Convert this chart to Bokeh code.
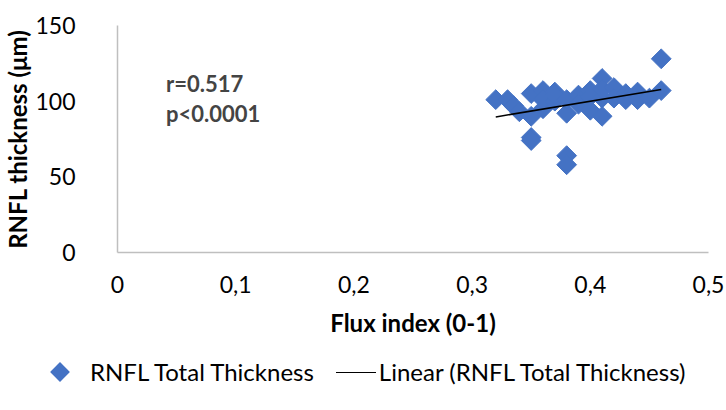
import numpy as np
from bokeh.plotting import figure
from bokeh.layouts import column
from bokeh.models import ColumnDataSource, FixedTicker, Label, Div
from bokeh.embed import file_html
from bokeh.resources import INLINE

flux = [0.32, 0.33, 0.335, 0.34, 0.35, 0.35, 0.35, 0.35, 0.36, 0.36, 0.36, 0.37, 0.37,
        0.37, 0.38, 0.38, 0.38, 0.38, 0.39, 0.39, 0.40, 0.40, 0.40, 0.41, 0.41, 0.41,
        0.41, 0.42, 0.42, 0.43, 0.43, 0.44, 0.44, 0.45, 0.46, 0.46]
rnfl = [101, 101, 97, 93, 105, 90, 76, 74, 107, 95, 101, 106, 100,
        104, 92, 64, 58, 101, 104, 98, 107, 94, 103, 115, 90, 102,
        108, 109, 102, 105, 101, 106, 101, 102, 107, 128]
trend_x = [0.32, 0.46]
trend_y = [89.6, 107.7]

x_ticks = [0, 0.1, 0.2, 0.3, 0.4, 0.5]
x_labels = ["0", "0,1", "0,2", "0,3", "0,4", "0,5"]
y_ticks = [0, 50, 100, 150]
series_labels = ["RNFL Total Thickness", "Linear (RNFL Total Thickness)"]

FONT = "Lato"
BLUE = "#4472C4"
p = figure(width=726, height=342, output_backend="svg", toolbar_location=None,
           x_range=(0, 0.5), y_range=(0, 150),
           min_border_left=115, min_border_top=25, min_border_right=18, min_border_bottom=90)
p.outline_line_color = None
p.grid.visible = False

for ax in (p.xaxis, p.yaxis):
    ax.axis_line_color = "#BFBFBF"
    ax.axis_line_width = 1.5
    ax.major_tick_line_color = None
    ax.minor_tick_line_color = None
    ax.major_label_text_font = FONT
    ax.major_label_text_font_size = "23px"
    ax.major_label_text_color = "#000000"
    ax.axis_label_text_font = FONT
    ax.axis_label_text_font_size = "24px"
    ax.axis_label_text_font_style = "bold"
    ax.axis_label_text_color = "#000000"

p.xaxis.ticker = FixedTicker(ticks=x_ticks)
p.xaxis.major_label_overrides = {t: l for t, l in zip(x_ticks, x_labels)}
p.yaxis.ticker = FixedTicker(ticks=y_ticks)
p.xaxis.axis_label = "Flux index (0-1)"
p.yaxis.axis_label = "RNFL thickness (μm)"
p.xaxis.major_label_standoff = 17
p.xaxis.axis_label_standoff = 12
p.yaxis.major_label_standoff = 36
p.yaxis.axis_label_standoff = 0

src = ColumnDataSource(dict(x=flux, y=rnfl))
p.scatter("x", "y", source=src, marker="square", size=14, angle=np.pi / 4,
          fill_color=BLUE, line_color=BLUE)
p.line(trend_x, trend_y, line_color="#000000", line_width=1.5)

p.add_layout(Label(x=0.041, y=112, text="r=0.517", text_font=FONT, text_font_size="22px",
                   text_font_style="bold", text_baseline="middle"))
p.add_layout(Label(x=0.041, y=92, text="p<0.0001", text_font=FONT, text_font_size="22px",
                   text_font_style="bold", text_baseline="middle"))

legend_html = (
    '<div style="display:flex;align-items:center;height:60px;white-space:nowrap;'
    'font-family:Lato;font-size:24px;color:#000;">'
    f'<span style="display:inline-block;width:14px;height:14px;background:{BLUE};'
    'transform:rotate(45deg);margin-left:53px;"></span>'
    f'<span style="margin-left:23px;">{series_labels[0]}</span>'
    '<span style="display:inline-block;width:40px;height:0;border-top:1.5px solid #000;'
    'margin-left:22px;"></span>'
    f'<span style="margin-left:3px;">{series_labels[1]}</span>'
    '</div>'
)
legend = Div(text=legend_html, width=726, height=60, margin=0)

open("out.html", "w").write(file_html(column(p, legend), INLINE))
